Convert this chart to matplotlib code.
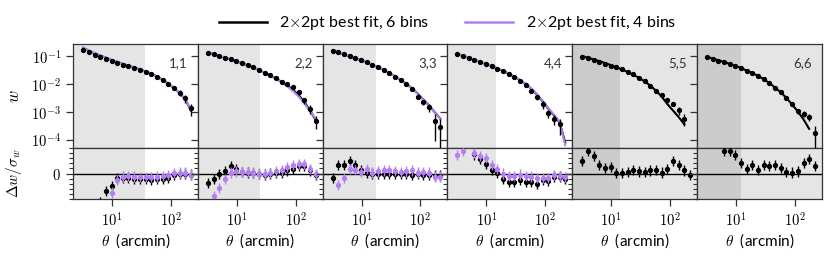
import numpy as np
import matplotlib
matplotlib.use('Agg')
import matplotlib.pyplot as plt
from matplotlib.ticker import FixedLocator, NullLocator, MultipleLocator, FuncFormatter, FixedFormatter
from matplotlib.lines import Line2D

plt.rcParams['font.family'] = ['Lato', 'DejaVu Sans']
plt.rcParams['mathtext.fontset'] = 'cm'

# angular bin centres (arcmin)
theta = [3.20, 4.00, 5.00, 6.24, 7.80, 9.75, 12.2, 15.2, 19.0, 23.8,
         29.7, 37.2, 46.4, 58.0, 72.5, 90.6, 113.0, 142.0, 177.0, 221.0]

labels = ['1,1', '2,2', '3,3', '4,4', '5,5', '6,6']
# upper edge of the excluded small-scale region in each bin
cuts = [35.7, 24.9, 17.5, 14.8, 14.0, 12.2]
nan = np.nan

# log10 w(theta) measurements
logw_data = [
    [-0.78, -0.87, -0.95, -1.03, -1.10, -1.18, -1.25, -1.31, -1.37, -1.43,
     -1.50, -1.56, -1.64, -1.74, -1.86, -2.00, -2.15, -2.32, -2.52, -2.88],
    [-0.88, -0.94, -1.00, -1.06, -1.12, -1.18, -1.25, -1.32, -1.40, -1.49,
     -1.59, -1.69, -1.80, -1.92, -2.00, -2.10, -2.30, -2.59, -2.89, -3.33],
    [-0.81, -0.87, -0.93, -1.00, -1.07, -1.14, -1.22, -1.31, -1.41, -1.51,
     -1.62, -1.74, -1.87, -2.01, -2.17, -2.45, -2.65, -2.84, -3.33, -3.55],
    [-0.94, -1.01, -1.08, -1.15, -1.22, -1.29, -1.37, -1.45, -1.54, -1.64,
     -1.75, -1.88, -2.05, -2.25, -2.47, -2.73, -3.05, -3.25, -3.45, nan],
    [-1.02, -1.08, -1.14, -1.20, -1.27, -1.34, -1.41, -1.48, -1.56, -1.66,
     -1.77, -1.90, -2.06, -2.25, -2.41, -2.59, -2.71, -2.95, -3.25, nan],
    [-1.05, -1.10, -1.16, -1.22, -1.29, -1.36, -1.44, -1.53, -1.62, -1.72,
     -1.84, -1.98, -2.13, -2.30, -2.50, -2.72, -2.97, -3.07, -3.19, -3.77],
]

# relative errors sigma_w / w
relerr = [
    [0.04, 0.04, 0.04, 0.04, 0.04, 0.05, 0.05, 0.05, 0.06, 0.06,
     0.07, 0.08, 0.09, 0.10, 0.12, 0.14, 0.17, 0.22, 0.30, 0.45],
    [0.04, 0.04, 0.04, 0.04, 0.05, 0.05, 0.05, 0.06, 0.06, 0.07,
     0.08, 0.09, 0.10, 0.11, 0.13, 0.15, 0.19, 0.25, 0.35, 0.50],
    [0.04, 0.04, 0.04, 0.05, 0.05, 0.05, 0.06, 0.06, 0.07, 0.08,
     0.09, 0.10, 0.11, 0.13, 0.15, 0.18, 0.22, 0.30, 0.80, 0.99],
    [0.04, 0.04, 0.05, 0.05, 0.05, 0.06, 0.06, 0.07, 0.08, 0.09,
     0.10, 0.11, 0.13, 0.15, 0.20, 0.30, 0.35, 0.40, 0.60, nan],
    [0.04, 0.04, 0.05, 0.05, 0.05, 0.06, 0.06, 0.07, 0.07, 0.08,
     0.09, 0.10, 0.11, 0.12, 0.14, 0.16, 0.20, 0.30, 0.45, nan],
    [0.04, 0.04, 0.05, 0.05, 0.05, 0.06, 0.06, 0.07, 0.07, 0.08,
     0.09, 0.10, 0.11, 0.12, 0.14, 0.16, 0.20, 0.25, 0.30, 0.80],
]

# log10 of best-fit models
logw_6bins = [
    [-0.70, -0.81, -0.90, -0.98, -1.06, -1.14, -1.21, -1.28, -1.35, -1.41,
     -1.48, -1.55, -1.63, -1.73, -1.85, -1.99, -2.15, -2.33, -2.55, -2.95],
    [-0.87, -0.94, -1.00, -1.06, -1.12, -1.19, -1.26, -1.33, -1.41, -1.50,
     -1.60, -1.70, -1.81, -1.93, -2.06, -2.21, -2.40, -2.65, -2.95, -3.30],
    [-0.80, -0.87, -0.94, -1.01, -1.08, -1.15, -1.23, -1.31, -1.40, -1.50,
     -1.61, -1.73, -1.86, -2.00, -2.16, -2.35, -2.56, -2.78, -3.02, -3.25],
    [-0.93, -1.00, -1.07, -1.14, -1.21, -1.28, -1.36, -1.44, -1.53, -1.63,
     -1.74, -1.86, -2.00, -2.17, -2.38, -2.62, -2.88, -3.13, -3.38, -4.10],
    [-1.00, -1.06, -1.12, -1.18, -1.25, -1.32, -1.40, -1.48, -1.57, -1.67,
     -1.78, -1.91, -2.06, -2.24, -2.45, -2.72, -2.95, -3.19, -3.45, nan],
    [-1.03, -1.09, -1.15, -1.21, -1.28, -1.35, -1.43, -1.52, -1.61, -1.71,
     -1.83, -1.97, -2.13, -2.30, -2.50, -2.74, -2.98, -3.27, -3.61, nan],
]
logw_4bins = [
    [-0.69, -0.80, -0.89, -0.98, -1.06, -1.14, -1.21, -1.28, -1.35, -1.42,
     -1.49, -1.56, -1.64, -1.74, -1.86, -2.00, -2.15, -2.33, -2.55, -2.92],
    [-0.86, -0.93, -0.99, -1.05, -1.12, -1.19, -1.26, -1.33, -1.41, -1.50,
     -1.60, -1.71, -1.82, -1.95, -2.09, -2.25, -2.45, -2.70, -2.98, -3.25],
    [-0.79, -0.86, -0.93, -1.00, -1.08, -1.15, -1.23, -1.31, -1.40, -1.50,
     -1.61, -1.73, -1.86, -2.01, -2.17, -2.36, -2.57, -2.79, -3.03, -3.25],
    [-0.92, -0.99, -1.06, -1.13, -1.20, -1.27, -1.35, -1.43, -1.52, -1.62,
     -1.73, -1.85, -1.99, -2.16, -2.36, -2.60, -2.86, -3.10, -3.35, -4.20],
]

# residuals Delta w / sigma_w
resid_6bins = [
    [-8, -8, -8, -5.6, -3.4, -2.5, -0.9, -0.8, -0.9, -1.0,
     -1.1, -1.1, -1.2, -1.1, -1.1, -0.9, -0.3, -0.1, 0.0, -0.2],
    [-1.9, -1.1, -0.1, 0.5, 1.4, 0.8, 0.3, 0.2, 0.1, -0.1,
     -0.2, 0.0, 0.1, 0.2, 0.6, 0.9, 1.5, 1.5, 0.6, -0.3],
    [-0.9, 1.6, 1.6, 2.5, 1.6, 0.75, 0.1, 0.0, 0.0, -0.1,
     0.0, 0.0, -0.1, -0.1, -0.2, -0.1, -0.2, -0.3, -0.4, -0.4],
    [7, 7, 6.5, 3.75, 2.8, 1.9, 0.75, 0.1, -1.1, -1.6,
     -1.6, -1.25, -1.6, -1.75, -2.0, -1.25, -1.4, -0.6, -0.6, -1.0],
    [2.5, 4.4, 3.4, 1.75, 1.1, 1.25, 0.1, 0.1, 0.3, 0.75,
     0.4, 0.3, 0.6, 0.75, 0.2, 0.9, 2.5, 1.75, 0.6, -0.3],
    [7, 7, 7, 4.5, 4.5, 3.6, 2.0, 0.9, 1.6, 0.75,
     1.75, 1.4, 1.75, 1.1, 0.3, 0.2, 0.4, 2.0, 2.8, 1.4],
]
resid_4bins = [
    [-9, -9, -9, -8, -6, -3.75, -1.25, -0.6, -0.5, -0.6,
     -0.7, -0.7, -0.7, -0.6, -0.5, -0.3, 0.1, 0.2, 0.2, -0.2],
    [-7, -4.4, -2.8, -1.1, 0.2, 0.4, 0.3, 0.3, 0.2, 0.0,
     -0.1, 0.1, 0.4, 0.6, 1.25, 1.6, 1.9, 1.9, 0.9, -0.1],
    [-7, -2.2, -0.9, 0.9, 0.75, 0.3, 0.9, 0.2, 0.4, 0.6,
     0.6, 0.5, 0.3, 0.4, 0.6, 0.2, 0.3, 0.2, -0.6, -0.6],
    [3.6, 4.4, 6, 4.1, 3.4, 3.1, 1.6, 0.9, 0.0, -0.5,
     -0.5, -0.2, -0.5, -0.6, -0.9, -0.8, -0.9, -0.3, -0.5, -0.75],
]

purple = '#b37ff5'
light = '#e5e5e5'
dark = '#cccccc'
xlim = (2.15, 290)

fig = plt.figure(figsize=(8.3, 2.59), dpi=100)
gs = fig.add_gridspec(2, 6, left=0.088, right=0.99, top=0.83, bottom=0.232,
                      hspace=0, wspace=0, height_ratios=[2.05, 1])

decade_fmt = FuncFormatter(lambda v, p: r'$10^{%d}$' % round(np.log10(v)))

for i in range(6):
    ax = fig.add_subplot(gs[0, i])
    axr = fig.add_subplot(gs[1, i])
    w = 10**np.array(logw_data[i])
    err = w * np.array(relerr[i])

    for a in (ax, axr):
        if i >= 4:
            a.axvspan(xlim[0], xlim[1], color=light, lw=0, zorder=0)
            a.axvspan(xlim[0], cuts[i], color=dark, lw=0, zorder=0)
        else:
            a.axvspan(xlim[0], cuts[i], color=light, lw=0, zorder=0)
        a.set_xscale('log')
        a.set_xlim(xlim)
        for s in a.spines.values():
            s.set_linewidth(0.9)
            s.set_color('#333333')

    ax.plot(theta, 10**np.array(logw_6bins[i]), color='k', lw=1.5, zorder=2)
    if i < 4:
        ax.plot(theta, 10**np.array(logw_4bins[i]), color=purple, lw=1.5, zorder=2)
    ax.errorbar(theta, w, yerr=err, fmt='o', color='k', ms=2.8, elinewidth=1.0,
                capsize=0, zorder=3)
    ax.set_yscale('log')
    ax.set_ylim(5e-5, 0.27)
    ax.yaxis.set_major_locator(FixedLocator([1e-4, 1e-3, 1e-2, 1e-1]))
    ax.yaxis.set_minor_locator(NullLocator())
    ax.yaxis.set_major_formatter(decade_fmt)
    ax.tick_params(axis='x', which='both', bottom=False, labelbottom=False)
    ax.tick_params(axis='y', direction='out', length=5, width=0.9, labelsize=10.5,
                   color='#333333')
    ax.text(0.92, 0.82, labels[i], transform=ax.transAxes, ha='right', va='center',
            fontsize=9.5, color='#333333')

    axr.axhline(0, color='k', lw=1.0, zorder=1)
    axr.errorbar(theta, resid_6bins[i], yerr=1, fmt='o', color='k', ms=2.8,
                 elinewidth=1.0, capsize=0, zorder=3)
    if i < 4:
        axr.errorbar(theta, resid_4bins[i], yerr=1, fmt='o', color=purple, ms=2.8,
                     elinewidth=1.0, capsize=0, zorder=4)
    axr.set_ylim(-5, 5)
    axr.yaxis.set_major_locator(FixedLocator([0]))
    axr.yaxis.set_major_formatter(FixedFormatter([r'$0$']))
    axr.yaxis.set_minor_locator(MultipleLocator(1))
    axr.xaxis.set_major_locator(FixedLocator([10, 100]))
    axr.xaxis.set_minor_locator(NullLocator())
    axr.xaxis.set_major_formatter(decade_fmt)
    axr.tick_params(which='major', direction='out', length=5, width=0.9, labelsize=10.5,
                    color='#333333')
    axr.tick_params(which='minor', direction='out', length=3, width=0.8, color='#333333')
    axr.set_xlabel(r'$\theta$  (arcmin)', fontsize=11, labelpad=2)

    if i == 0:
        ax.set_ylabel(r'$w$', fontsize=12)
        ax.yaxis.set_label_coords(-0.41, 0.5)
        axr.set_ylabel(r'$\Delta w/\sigma_w$', fontsize=11)
        axr.yaxis.set_label_coords(-0.39, 0.5)
    else:
        ax.tick_params(axis='y', labelleft=False)
        axr.tick_params(axis='y', which='both', labelleft=False)

handles = [Line2D([], [], color='k', lw=1.8), Line2D([], [], color=purple, lw=1.8)]
fig.legend(handles, [r'2$\times$2pt best fit, 6 bins', r'2$\times$2pt best fit, 4 bins'],
           loc='center', bbox_to_anchor=(0.539, 0.91), ncol=2, frameon=False,
           fontsize=11.5, handlelength=3.0, columnspacing=2.2)

fig.savefig('out.png', dpi=100)
